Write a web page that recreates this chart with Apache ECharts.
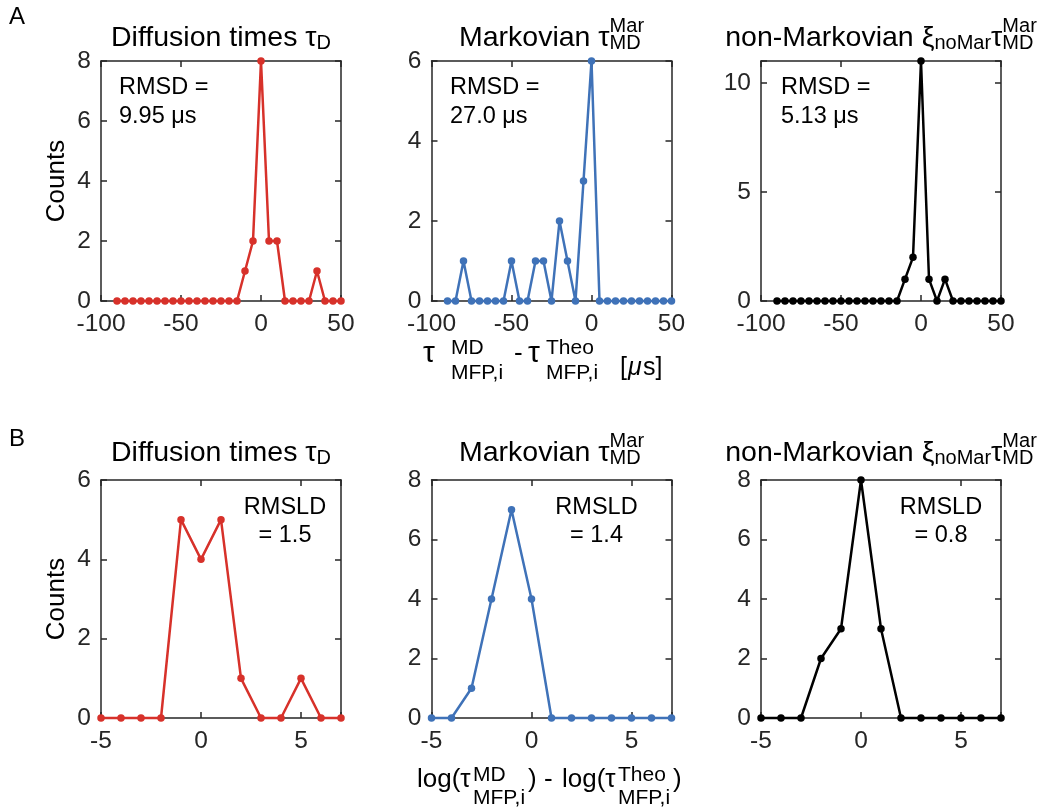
<!DOCTYPE html>
<html>
<head>
<meta charset="utf-8">
<script src="https://cdn.jsdelivr.net/npm/echarts@6/dist/echarts.min.js"></script>
<style>
  html, body { margin: 0; padding: 0; background: #fff; }
  #chart { width: 1043px; height: 811px; }
</style>
</head>
<body>
<div id="chart"></div>
<script>
// ---- data -------------------------------------------------------------
// bin centres (µs) of the absolute-difference histograms (row A)
const binsUs = [-90, -85, -80, -75, -70, -65, -60, -55, -50, -45, -40, -35, -30, -25, -20,
                -15, -10, -5, 0, 5, 10, 15, 20, 25, 30, 35, 40, 45, 50];
const countsDiffUs  = [0, 0, 0, 0, 0, 0, 0, 0, 0, 0, 0, 0, 0, 0, 0, 0, 1, 2, 8, 2, 2, 0, 0, 0, 0, 1, 0, 0, 0];
const countsMarUs   = [0, 0, 1, 0, 0, 0, 0, 0, 1, 0, 0, 1, 1, 0, 2, 1, 0, 3, 6, 0, 0, 0, 0, 0, 0, 0, 0, 0, 0];
const countsNoMarUs = [0, 0, 0, 0, 0, 0, 0, 0, 0, 0, 0, 0, 0, 0, 0, 0, 1, 2, 11, 1, 0, 1, 0, 0, 0, 0, 0, 0, 0];

// bin centres of the log-difference histograms (row B)
const binsLog = [-5, -4, -3, -2, -1, 0, 1, 2, 3, 4, 5, 6, 7];
const countsDiffLog  = [0, 0, 0, 0, 5, 4, 5, 1, 0, 0, 1, 0, 0];
const countsMarLog   = [0, 0, 1, 4, 7, 4, 0, 0, 0, 0, 0, 0, 0];
const countsNoMarLog = [0, 0, 0, 2, 3, 8, 3, 0, 0, 0, 0, 0, 0];

// tick labels
const xTicksUs  = [-100, -50, 0, 50];
const xTicksLog = [-5, 0, 5];
const yTicks = [[0, 2, 4, 6, 8], [0, 2, 4, 6], [0, 5, 10], [0, 2, 4, 6], [0, 2, 4, 6, 8], [0, 2, 4, 6, 8]];
const yMax   = [8, 6, 11, 6, 8, 8];

// annotation texts
const rmsdText  = ['9.95 μs', '27.0 μs', '5.13 μs'];
const rmsldText = ['= 1.5', '= 1.4', '= 0.8'];

// ---- layout / style ---------------------------------------------------
const FONT = '"Liberation Sans", Arial, Helvetica, sans-serif';
const AXIS_COLOR = '#262626';
const RED = '#D7312A', BLUE = '#3F72B8', BLACK = '#000000';

const panelLefts = [101, 431.5, 761];
const panelW = 240;
const rows = [{ top: 61, h: 240 }, { top: 480, h: 238 }];

const panels = [
  { row: 0, col: 0, bins: binsUs,  counts: countsDiffUs,   color: RED,   xMin: -100, xMax: 50, xInt: 50, xTicks: xTicksUs },
  { row: 0, col: 1, bins: binsUs,  counts: countsMarUs,    color: BLUE,  xMin: -100, xMax: 50, xInt: 50, xTicks: xTicksUs },
  { row: 0, col: 2, bins: binsUs,  counts: countsNoMarUs,  color: BLACK, xMin: -100, xMax: 50, xInt: 50, xTicks: xTicksUs },
  { row: 1, col: 0, bins: binsLog, counts: countsDiffLog,  color: RED,   xMin: -5, xMax: 7, xInt: 5, xTicks: xTicksLog },
  { row: 1, col: 1, bins: binsLog, counts: countsMarLog,   color: BLUE,  xMin: -5, xMax: 7, xInt: 5, xTicks: xTicksLog },
  { row: 1, col: 2, bins: binsLog, counts: countsNoMarLog, color: BLACK, xMin: -5, xMax: 7, xInt: 5, xTicks: xTicksLog }
];

const grids = [], xAxes = [], yAxes = [], series = [];
const lineStyle = { color: AXIS_COLOR, width: 1.5 };
const TICK_FS = 24.5;

panels.forEach((p, i) => {
  const r = rows[p.row];
  grids.push({ left: panelLefts[p.col], top: r.top, width: panelW, height: r.h,
               containLabel: false, outerBoundsMode: 'none' });
  const yT = yTicks[i];
  const common = () => ({ type: 'value', gridIndex: i, splitLine: { show: false },
                   axisLine: { show: true, onZero: false, lineStyle: lineStyle },
                   axisTick: { show: true, inside: true, length: 6, lineStyle: lineStyle } });
  // bottom + top x axes (box)
  xAxes.push(Object.assign(common(), {
    position: 'bottom', min: p.xMin, max: p.xMax, interval: p.xInt,
    axisLabel: { show: true, margin: 11, color: AXIS_COLOR, fontSize: TICK_FS, fontFamily: FONT,
                 formatter: v => (p.xTicks.includes(v) ? String(v) : '') }
  }));
  xAxes.push(Object.assign(common(), {
    position: 'top', min: p.xMin, max: p.xMax, interval: p.xInt, axisLabel: { show: false }
  }));
  // left + right y axes (box)
  const yInt = yT[1] - yT[0];
  yAxes.push(Object.assign(common(), {
    position: 'left', min: 0, max: yMax[i], interval: yInt,
    axisLabel: { show: true, margin: 10, color: AXIS_COLOR, fontSize: TICK_FS, fontFamily: FONT,
                 formatter: v => (yT.includes(v) ? String(v) : '') }
  }));
  yAxes.push(Object.assign(common(), {
    position: 'right', min: 0, max: yMax[i], interval: yInt, axisLabel: { show: false }
  }));
  series.push({
    type: 'line', xAxisIndex: 2 * i, yAxisIndex: 2 * i,
    data: p.bins.map((x, k) => [x, p.counts[k]]),
    symbol: 'circle', symbolSize: 7.5, clip: false, z: 5,
    lineStyle: { color: p.color, width: 2.5 },
    itemStyle: { color: p.color },
    emphasis: { disabled: true }
  });
});

// ---- text helpers -------------------------------------------------------
const mctx = document.createElement('canvas').getContext('2d');
function textW(t, size, italic) {
  mctx.font = (italic ? 'italic ' : '') + size + 'px ' + FONT;
  return mctx.measureText(t).width;
}
// text element positioned by its alphabetic baseline
function txt(t, x, baseline, size, opt) {
  opt = opt || {};
  return {
    type: 'text', silent: true, x: x, y: baseline - 0.31 * size,
    style: { text: t, fontSize: size, fontFamily: FONT, fontStyle: opt.italic ? 'italic' : 'normal',
             fill: opt.color || '#000', align: opt.align || 'left', verticalAlign: 'middle' }
  };
}
// a horizontally centred line made of pieces; {sup, sub} pieces are stacked
function mathLine(parts, cx, baseline) {
  const widths = parts.map(p => p.sup
    ? Math.max(textW(p.sup.t, p.sup.size), textW(p.sub.t, p.sub.size))
    : textW(p.t, p.size, p.italic));
  const total = widths.reduce((a, b) => a + b, 0);
  let x = cx - total / 2;
  const els = [];
  parts.forEach((p, k) => {
    const pieces = p.sup ? [p.sup, p.sub] : [p];
    pieces.forEach(q => els.push(txt(q.t, x, baseline + (q.dy || 0), q.size, { italic: q.italic })));
    x += widths[k];
  });
  return els;
}

const TS = 28.5, SS = 20;
const titleDiff  = [{ t: 'Diffusion times τ', size: TS }, { t: 'D', size: SS, dy: 3 }];
const titleMar   = [{ t: 'Markovian τ', size: TS },
                    { sup: { t: 'Mar', size: SS, dy: -14 }, sub: { t: 'MD', size: SS, dy: 3 } }];
const titleNoMar = [{ t: 'non-Markovian ξ', size: TS }, { t: 'noMar', size: SS, dy: 3 }, { t: 'τ', size: TS },
                    { sup: { t: 'Mar', size: SS, dy: -14 }, sub: { t: 'MD', size: SS, dy: 3 } }];
const titles = [titleDiff, titleMar, titleNoMar];

let graphics = [];
[47, 462].forEach(base => {
  titles.forEach((t, c) => { graphics = graphics.concat(mathLine(t, panelLefts[c] + panelW / 2, base)); });
});

// panel letters
graphics.push(txt('A', 9, 25, 24));
graphics.push(txt('B', 9, 447, 24));

// y-axis names
rows.forEach(r => {
  graphics.push({
    type: 'text', silent: true, x: 57, y: r.top + r.h / 2, rotation: Math.PI / 2,
    style: { text: 'Counts', fontSize: 26, fontFamily: FONT, fill: '#000', align: 'center', verticalAlign: 'middle' }
  });
});

// RMSD annotations (row A)
const rmsdX = [119, 450, 781];
rmsdText.forEach((s, c) => {
  graphics.push(txt('RMSD =', rmsdX[c], 95, 23.5));
  graphics.push(txt(s, rmsdX[c], 124, 23.5));
});
// RMSLD annotations (row B)
const rmsldCx = [285, 596.5, 941];
rmsldText.forEach((s, c) => {
  graphics.push(txt('RMSLD', rmsldCx[c], 515, 23.5, { align: 'center' }));
  graphics.push(txt(s, rmsldCx[c], 543, 23.5, { align: 'center' }));
});

// x-axis names
const XS = 30, XSS = 21;
graphics.push(txt('τ', 423, 363, XS));
graphics.push(txt('MD', 451, 355, XSS));
graphics.push(txt('MFP,i', 451, 380, XSS));
graphics.push(txt('-', 514, 362, 26));
graphics.push(txt('τ', 528, 363, XS));
graphics.push(txt('Theo', 546, 355, XSS));
graphics.push(txt('MFP,i', 546, 380, XSS));
graphics.push(txt('[', 620, 376, 25));
graphics.push(txt('μ', 628, 376, 25, { italic: true }));
graphics.push(txt('s]', 643, 376, 25));

const LS = 26;
graphics.push(txt('log(τ', 417, 788, LS));
graphics.push(txt('MD', 473, 782, XSS));
graphics.push(txt('MFP,i', 473, 805, XSS));
graphics.push(txt(')', 528, 788, LS));
graphics.push(txt('-', 544, 788, LS));
graphics.push(txt('log(τ', 562, 788, LS));
graphics.push(txt('Theo', 618, 782, XSS));
graphics.push(txt('MFP,i', 618, 805, XSS));
graphics.push(txt(')', 673, 788, LS));

const chart = echarts.init(document.getElementById('chart'), null, { renderer: 'canvas' });
chart.setOption({
  animation: false,
  backgroundColor: '#fff',
  grid: grids,
  xAxis: xAxes,
  yAxis: yAxes,
  series: series,
  graphic: graphics
});
</script>
</body>
</html>
